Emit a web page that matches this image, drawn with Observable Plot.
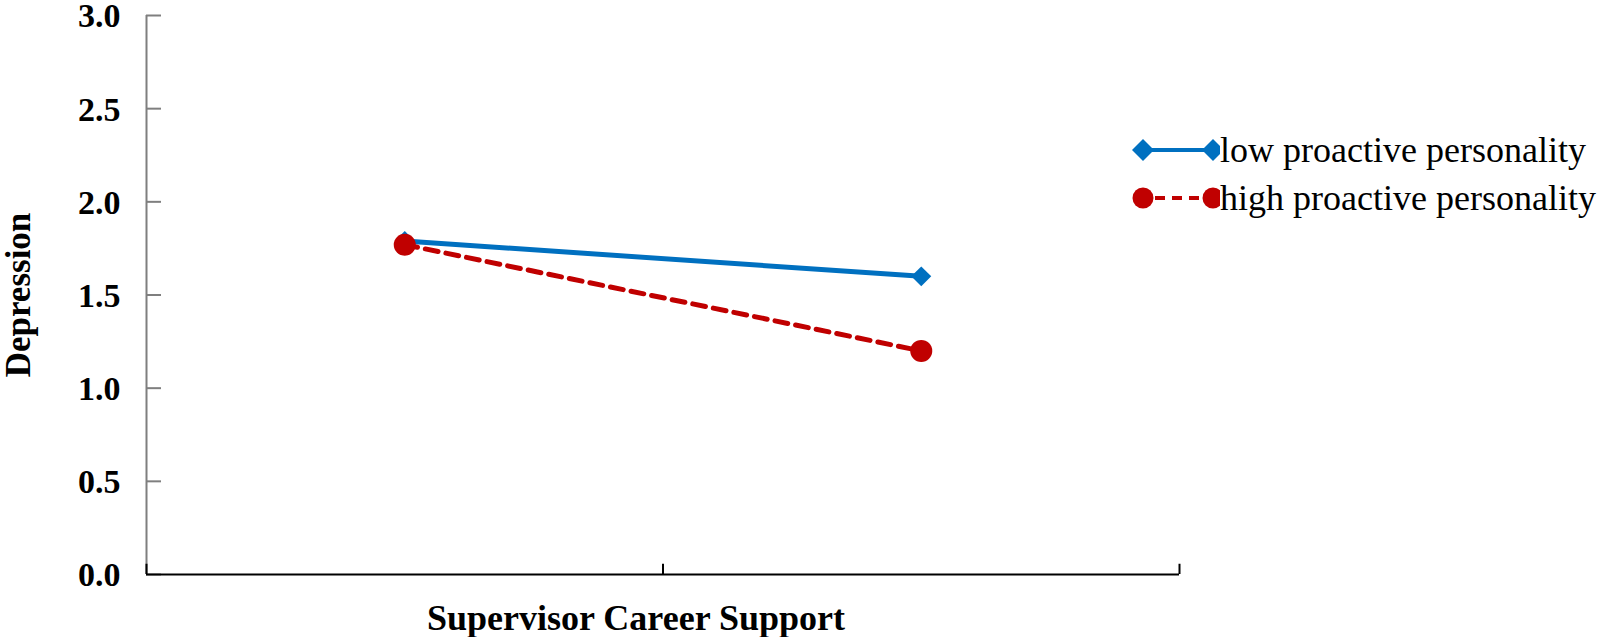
<!DOCTYPE html>
<html>
<head>
<meta charset="utf-8">
<script src="https://cdn.jsdelivr.net/npm/d3@7"></script>
<script src="https://cdn.jsdelivr.net/npm/@observablehq/plot@0.6"></script>
<style>
  html, body { margin: 0; padding: 0; background: #fff; }
  #wrap { position: relative; width: 1600px; height: 637px; }
  #legend { position: absolute; left: 1132px; top: 126px; font-family: "Liberation Serif", "Times New Roman", serif; font-size: 36px; color: #000; }
  .row { display: flex; align-items: center; height: 48px; white-space: nowrap; }
  .row svg { flex: none; margin-right: 0px; }
</style>
</head>
<body>
<div id="wrap"></div>
<script>
// ---- data ----
const categories = ["Low", "High"];               // Supervisor Career Support levels (unlabelled)
const lowProactive = [1.79, 1.60];
const highProactive = [1.77, 1.20];
const seriesNames = ["low proactive personality", "high proactive personality"];
const seriesColors = ["#0070C0", "#C00000"];
const yTicks = [0, 0.5, 1.0, 1.5, 2.0, 2.5, 3.0];
const xBoundaries = [0, 1, 2];                    // category boundary tick marks
const xTitle = "Supervisor Career Support";
const yTitle = "Depression";

const lowRows = categories.map((c, i) => ({cat: c, pos: i + 0.5, value: lowProactive[i]}));
const highRows = categories.map((c, i) => ({cat: c, pos: i + 0.5, value: highProactive[i]}));

const chart = Plot.plot({
  width: 1600,
  height: 637,
  marginLeft: 146,
  marginRight: 421,
  marginTop: 15,
  marginBottom: 63,
  x: {domain: [0, categories.length], axis: null},
  y: {domain: [0, 3], axis: null},
  style: {fontFamily: "'Liberation Serif', 'Times New Roman', serif", background: "#fff", color: "#000", overflow: "visible"},
  marks: [
    // y axis line and ticks (gray, inward)
    Plot.ruleX([0], {stroke: "#7f7f7f", strokeWidth: 2}),
    Plot.ruleY(yTicks, {y: d => d, x1: 0, x2: 0.029, stroke: "#7f7f7f", strokeWidth: 2}),
    // x axis line and ticks (black, inward)
    Plot.ruleY([0], {stroke: "#000", strokeWidth: 2}),
    Plot.ruleX(xBoundaries, {x: d => d, y1: 0, y2: 0.055, stroke: "#000", strokeWidth: 2}),
    // y tick labels
    Plot.text(yTicks, {x: 0, y: d => d, text: d => d.toFixed(1), textAnchor: "end", dx: -26, dy: 1,
      fontWeight: "bold", fontSize: 34, fill: "#000"}),
    // axis titles
    Plot.text([xTitle], {frameAnchor: "bottom", text: d => d, dx: -27, dy: 55,
      fontWeight: "bold", fontSize: 36, fill: "#000"}),
    Plot.text([yTitle], {frameAnchor: "left", textAnchor: "middle", text: d => d, rotate: -90, dx: -128,
      fontWeight: "bold", fontSize: 35, fill: "#000"}),
    // series
    Plot.line(lowRows, {x: "pos", y: "value", stroke: seriesColors[0], strokeWidth: 5}),
    Plot.line(highRows, {x: "pos", y: "value", stroke: seriesColors[1], strokeWidth: 5, strokeDasharray: "13,8"}),
    Plot.dot(lowRows, {x: "pos", y: "value", symbol: "diamond2", r: 9, fill: seriesColors[0], stroke: "none"}),
    Plot.dot(highRows, {x: "pos", y: "value", symbol: "circle", r: 11, fill: seriesColors[1], stroke: "none"})
  ]
});

const wrap = document.getElementById("wrap");
wrap.appendChild(chart);

// legend
const legend = document.createElement("div");
legend.id = "legend";
const ns = "http://www.w3.org/2000/svg";
seriesNames.forEach((name, i) => {
  const row = document.createElement("div");
  row.className = "row";
  const svg = document.createElementNS(ns, "svg");
  svg.setAttribute("width", 88);
  svg.setAttribute("height", 26);
  const line = document.createElementNS(ns, "line");
  line.setAttribute("x1", 11); line.setAttribute("x2", 81);
  line.setAttribute("y1", 13); line.setAttribute("y2", 13);
  line.setAttribute("stroke", seriesColors[i]);
  line.setAttribute("stroke-width", 4);
  if (i === 1) { line.setAttribute("stroke-dasharray", "10,7"); line.setAttribute("stroke-dashoffset", "-12"); }
  svg.appendChild(line);
  [11, 81].forEach(cx => {
    let m;
    if (i === 0) {
      m = document.createElementNS(ns, "path");
      m.setAttribute("d", `M${cx},2L${cx + 11},13L${cx},24L${cx - 11},13Z`);
    } else {
      m = document.createElementNS(ns, "circle");
      m.setAttribute("cx", cx); m.setAttribute("cy", 13); m.setAttribute("r", 10.5);
    }
    m.setAttribute("fill", seriesColors[i]);
    svg.appendChild(m);
  });
  row.appendChild(svg);
  const span = document.createElement("span");
  span.textContent = name;
  row.appendChild(span);
  legend.appendChild(row);
});
wrap.appendChild(legend);
</script>
</body>
</html>
